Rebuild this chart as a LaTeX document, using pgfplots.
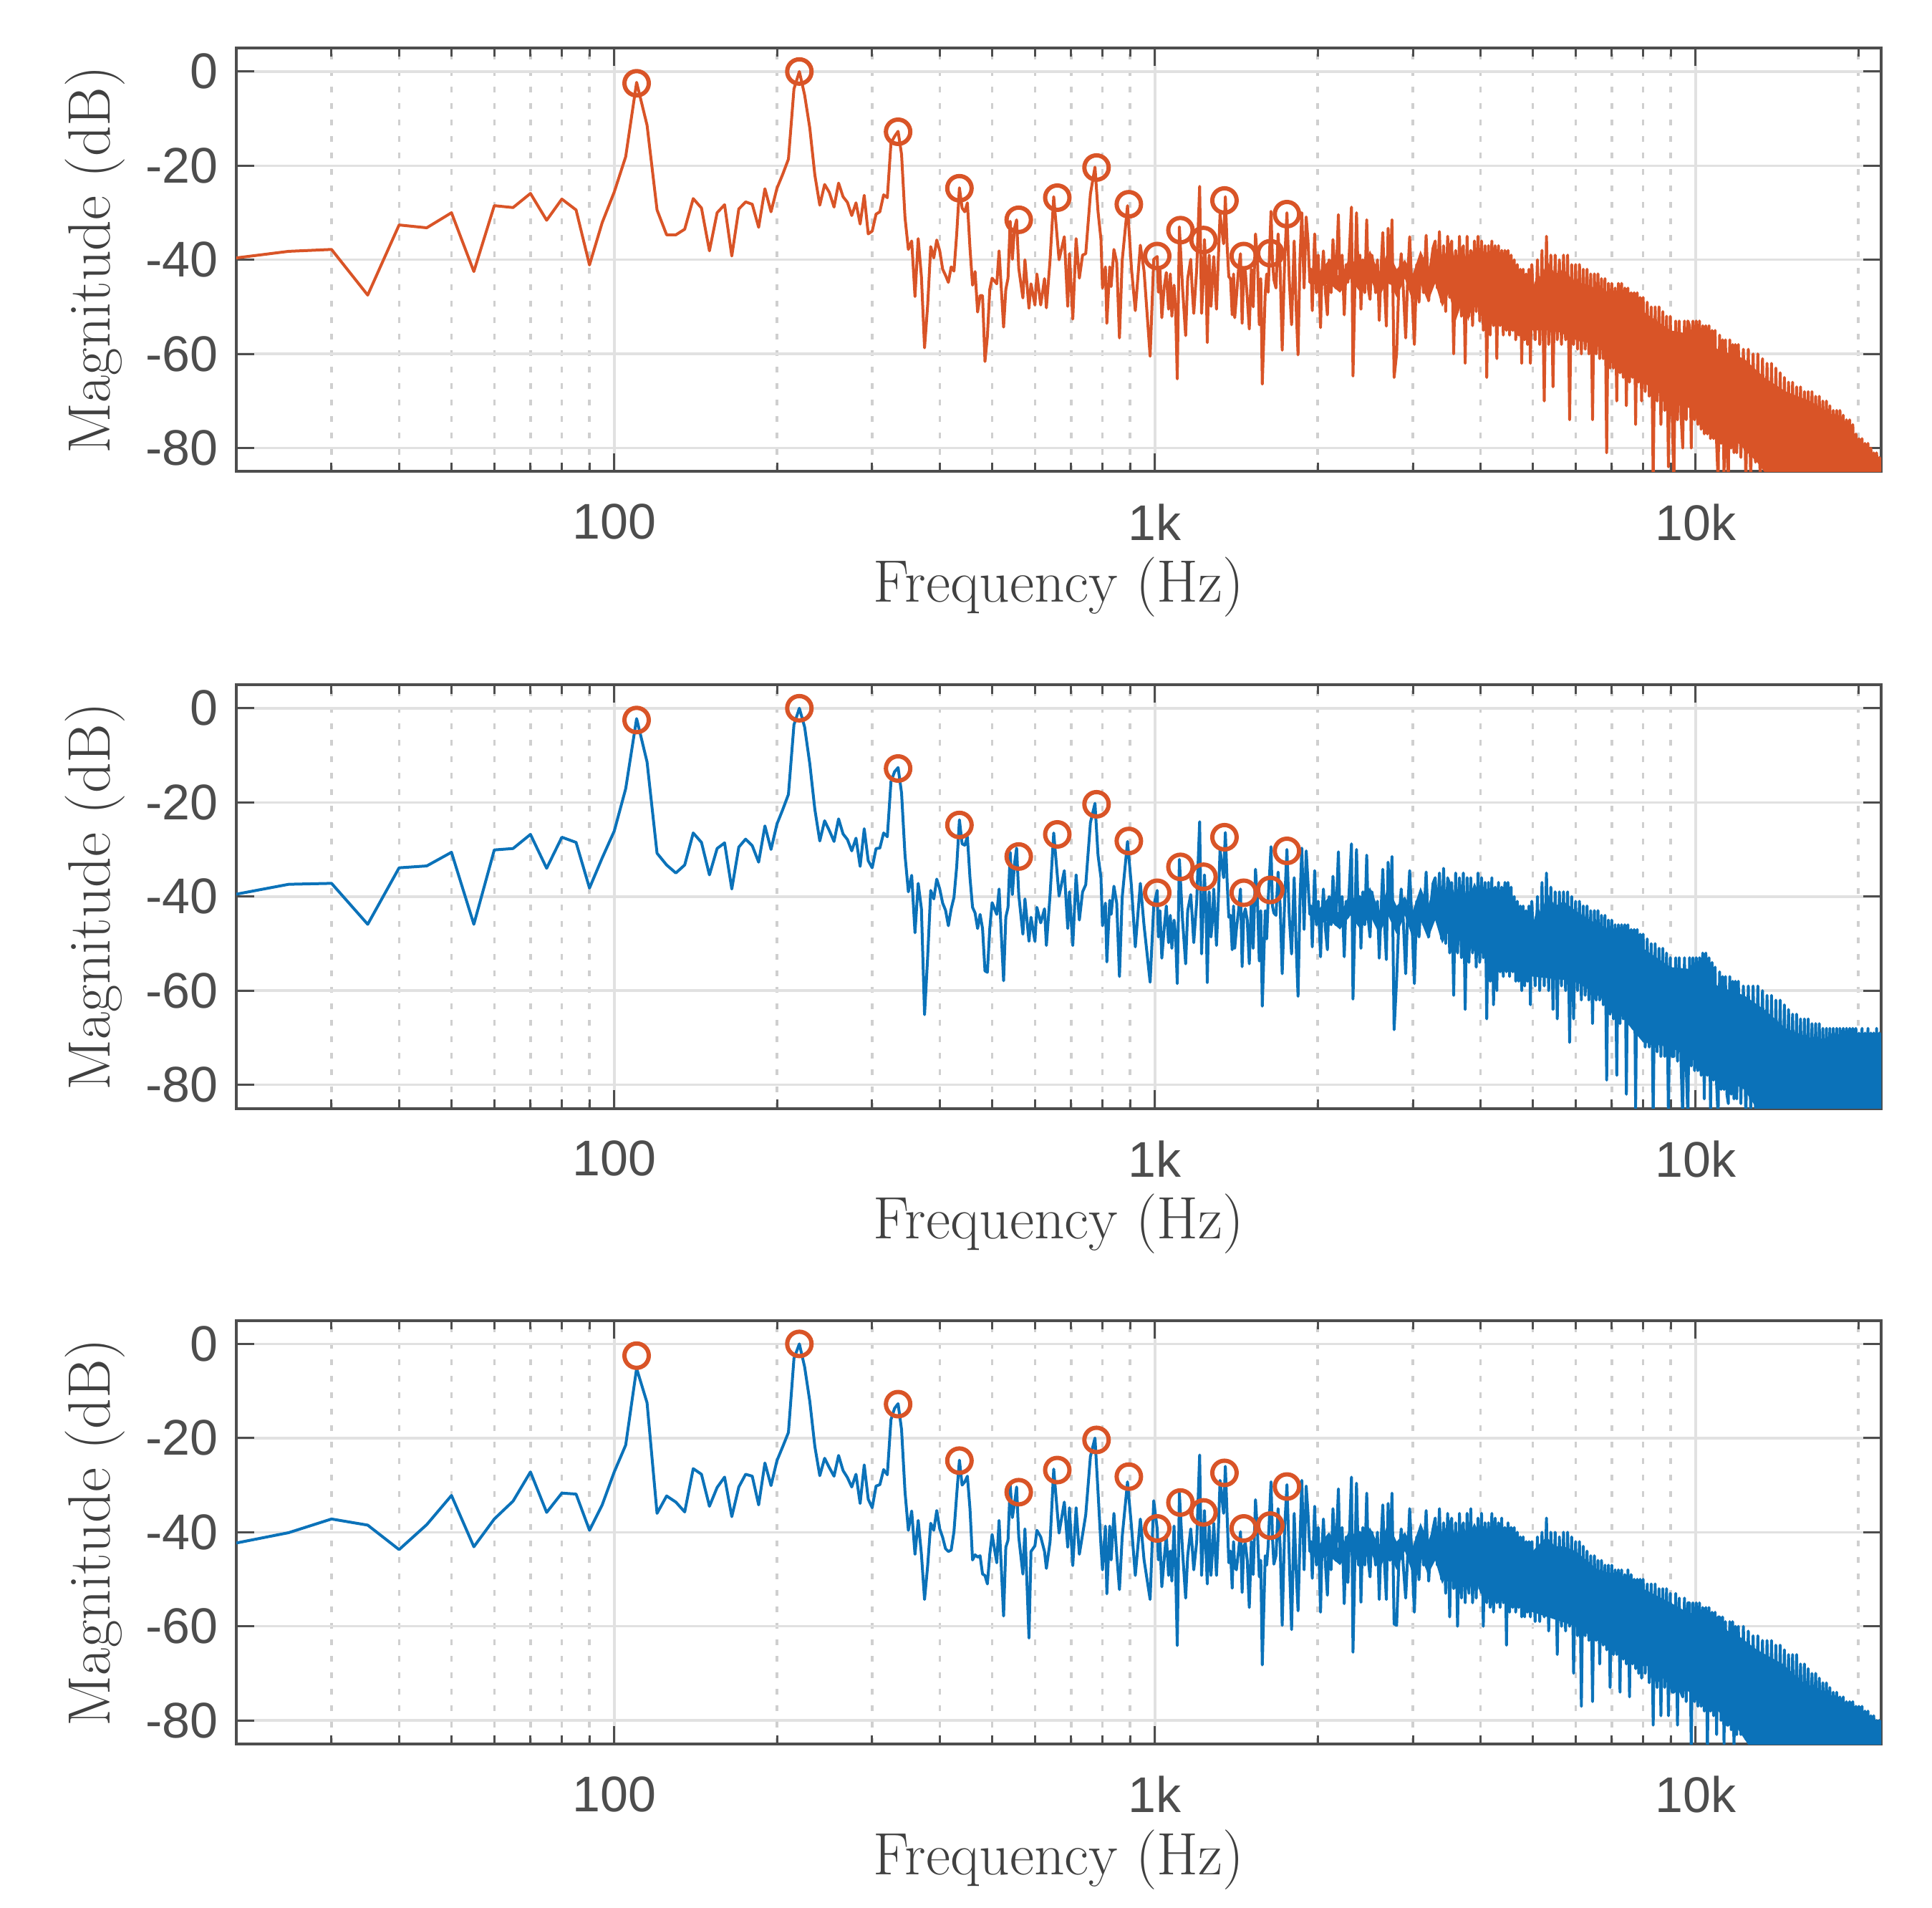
\documentclass[border=0pt]{standalone}
\usepackage{fontspec}
\usepackage{pgfplots}
\usepackage{pgfplotstable}
\pgfplotsset{compat=1.18}
\newfontfamily\arialfont{Liberation Sans}
\definecolor{specorange}{HTML}{D95427}
\definecolor{specblue}{HTML}{0B72B9}
\definecolor{axgray}{HTML}{4D4D4D}
\definecolor{labelgray}{HTML}{404040}
\definecolor{gridmajor}{HTML}{E1E1E1}
\definecolor{gridminor}{HTML}{CFCFCF}

% f, panel 1, panel 2, panel 3 (dB)
\pgfplotstableread{
f a b c
20 -39.6 -39.5 -42.3
25 -38.2 -37.4 -40.1
30 -37.8 -37.2 -37.2
35 -47.5 -45.9 -38.5
40 -32.6 -33.9 -43.7
45 -33.2 -33.5 -38.4
50 -30 -30.6 -32.2
55 -42.5 -45.9 -43.1
60 -28.5 -30.1 -37.2
65 -28.9 -29.8 -33.4
70 -25.9 -26.8 -27.2
75 -31.6 -34 -35.8
80 -27.1 -27.4 -31.7
85 -29.4 -28.5 -31.9
90 -41.1 -38.2 -39.6
95 -32.1 -31.8 -34.2
100 -25.6 -26.1 -27.2
105 -18.1 -17.1 -21.5
110 -2.3 -2.2 -5.2
115 -11.4 -11.4 -12.5
120 -29.4 -30.8 -36
125 -34.7 -33.3 -32.3
130 -34.7 -35 -33.6
135 -33.5 -33.3 -35.7
140 -27 -26.5 -26.5
145 -29 -28.5 -27.7
150 -38.1 -35.4 -34.5
155 -30 -29.8 -30.5
160 -28.3 -28.6 -28.3
165 -39.2 -38.4 -36.7
170 -29.2 -29.5 -30.4
175 -27.7 -27.8 -27.7
180 -28.2 -29.2 -28.1
185 -33.1 -32.7 -34.2
190 -24.9 -25 -25.3
195 -29.8 -30 -30.1
200 -24.8 -24.6 -24.8
205 -21.8 -21.5 -21.8
210 -18.6 -18.3 -18.8
215 -3.7 -3.5 -3.1
220 0 0 0
225 -5 -4 -4.9
230 -12 -11.8 -12.2
235 -22 -21.5 -21.8
240 -28.4 -28.2 -28
245 -24 -23.9 -24.3
250 -25.7 -26 -26.3
255 -28.8 -28.3 -28.1
260 -23.7 -23.5 -23.7
265 -26.6 -26.7 -26.9
270 -27.8 -27.9 -28.4
275 -30.6 -30.3 -30.4
280 -27.9 -27.6 -27.7
285 -32.4 -33.6 -33.9
290 -26.3 -25.6 -25.7
295 -34.5 -32.4 -33
300 -33.9 -33.9 -34.8
305 -30.3 -29.8 -30.2
310 -29.8 -29.7 -29.9
315 -26.2 -26.5 -26.7
320 -26.8 -27.3 -27.8
325 -15.2 -15.6 -16.1
330 -13.8 -13.5 -13.7
335 -12.7 -12.6 -12.7
340 -17.6 -18 -18.2
345 -31 -31.2 -31.4
350 -37.8 -39 -39.6
355 -36 -35.5 -35.5
360 -47.8 -47.7 -44.7
365 -35.5 -37.2 -37.5
370 -43.6 -42.6 -44.7
375 -58.7 -65.1 -54.3
380 -49.6 -52.8 -47.1
385 -37.2 -38.7 -38.1
390 -39.6 -40.5 -39.6
395 -35.8 -36.3 -35.4
400 -38.1 -38.4 -39.3
405 -42 -41.4 -41.1
410 -43.3 -42.9 -43.5
415 -44.8 -46.2 -44.1
420 -41.5 -42.6 -43.8
425 -42.4 -40.2 -39.9
430 -34.5 -33.6 -32
435 -24.7 -23.7 -24.7
440 -29 -28.8 -30
445 -29.8 -29.1 -29.3
450 -27.9 -27.3 -28.1
455 -37.5 -36 -35
460 -45.4 -42.3 -45.9
465 -42.5 -43.5 -44.8
470 -51.1 -46.8 -45.3
475 -47.6 -43.8 -45
480 -47.6 -46.8 -48.9
485 -61.6 -55.8 -49.2
490 -56.3 -56.1 -51
495 -46.3 -46.8 -44.7
500 -43.9 -41.3 -40.5
510 -45.1 -43.8 -46.5
515 -38.1 -38.4 -37.5
525 -54.3 -57.9 -57.8
530 -46.3 -44.4 -43.2
535 -43.9 -42.3 -41.7
540 -31.8 -30.6 -29.9
545 -39.9 -39.6 -36.9
550 -33.3 -33 -33.9
555 -31.5 -29.7 -30.4
560 -41.8 -39.6 -41
570 -48.1 -48 -48.9
575 -40 -40.5 -39.3
585 -50.3 -49.5 -62.5
590 -45.1 -44.4 -44.1
600 -49.6 -49.5 -42.9
605 -43 -42.3 -39.6
615 -49.6 -45.6 -41
625 -44 -42.6 -44.1
630 -50.2 -50.4 -47.7
640 -40 -39.6 -42
650 -26.6 -26.5 -26.6
665 -40 -39.9 -40.2
680 -35.1 -34.5 -33.6
690 -49.9 -46.8 -43.2
695 -38.7 -39 -34.8
705 -52.6 -50.4 -47.1
715 -35.5 -35.4 -34.8
725 -43.9 -45 -44.7
735 -39 -39 -40.5
745 -38.7 -37.5 -36.3
760 -26 -24.3 -23.9
775 -20.3 -20.2 -20
785 -29.7 -31.2 -31.4
795 -35.7 -36 -42.9
800 -46 -46.2 -48
810 -41.5 -41.4 -38.7
815 -53.5 -53.9 -53.1
825 -41.5 -40.8 -38.7
830 -45.7 -43.8 -45.9
840 -37.8 -37.8 -36
850 -40.5 -41.4 -44.7
860 -56.6 -57 -52.2
870 -40.2 -40.2 -41
890 -28.5 -28.3 -29.3
905 -41.8 -37.8 -38.7
920 -50.8 -50.7 -49.2
940 -36.9 -37.2 -37.2
955 -42.4 -46.2 -45.9
980 -60.5 -58.2 -54.3
995 -39.9 -42 -33.3
1010 -39.3 -38.7 -39.3
1015 -46.9 -48.6 -45.9
1022 -42 -43 -42
1030 -52.3 -53.1 -51.6
1040 -46 -47 -46
1050 -42.7 -42 -40.5
1060 -50.5 -49.8 -49.2
1068 -43 -44 -44
1075 -52 -51 -50.4
1085 -45.4 -45 -38.7
1092 -50 -48 -47
1100 -65.3 -58.5 -64.1
1110 -33 -32.1 -31.7
1125 -46 -45 -44
1140 -56.1 -54.3 -54
1150 -44 -43 -45
1165 -39.9 -39.6 -39.3
1172 -46 -44 -43
1180 -51.4 -49.8 -48
1195 -42 -41 -42
1210 -24.4 -24.1 -23.6
1220 -51.4 -52.2 -49.2
1228 -45 -43 -42
1235 -35.7 -35.4 -35.4
1243 -42 -42 -44
1250 -57.6 -58.3 -51
1260 -39 -39 -38.7
1270 -49.9 -48.6 -49.2
1278 -44 -45 -44
1285 -39.3 -38.4 -38.1
1300 -50.5 -50.4 -49.2
1310 -40 -41 -40
1320 -30.3 -30 -29
1340 -36.6 -36 -36
1350 -26.6 -26.4 -26
1360 -36.9 -36.6 -36.3
1370 -43.6 -44.4 -46.5
1380 -44 -44 -44
1390 -51.7 -51.3 -51.9
1398 -43 -42 -42
1405 -52.3 -51 -47.4
1415 -48 -47 -48
1428 -42 -43 -44
1440 -38.7 -38.4 -39.9
1450 -53.5 -54.9 -52.8
1460 -42 -44 -43
1470 -42.4 -42.6 -42.3
1482 -48 -45 -46
1495 -54.7 -54.3 -56
1508 -42 -41 -42
1520 -50 -51 -49
1535 -34.5 -34.2 -33.1
1548 -40 -41 -40
1560 -53.8 -53.7 -49.5
1570 -44 -43 -46
1580 -66.4 -63.3 -68.2
1600 -47 -43 -45
1610 -43 -49 -47
1620 -46.9 -40.8 -42.9
1640 -29.7 -29.4 -29.3
1650 -40 -42 -41
1660 -44.2 -43.5 -46.8
1675 -46 -44 -45
1690 -34.5 -34.8 -35
1705 -42 -42 -43
1720 -59.2 -56.4 -59.8
1738 -40 -41 -39
1755 -30 -30 -29.9
1772 -44 -44 -45
1790 -53.8 -52.2 -60.7
1810 -36 -36 -36
1825 -50 -50 -48
1840 -60.2 -61.2 -56.7
1855 -40 -41 -42
1870 -30 -29.7 -29
1888 -46 -47 -48
1905 -30.9 -30.3 -30.2
1920 -36 -37 -36
1935 -44.8 -43.8 -44.1
1945 -42 -42 -42
1955 -50.8 -50.7 -49.8
1975 -34.5 -34.5 -34.5
1990 -47 -46 -47
2005 -39 -41 -39
2025 -54.4 -52.8 -57
2037 -43 -44 -44
2050 -38.1 -38.4 -37.2
2068 -47 -47 -47
2085 -51.7 -51.3 -53.4
2100 -40 -40 -41
2118 -47 -46 -48
2135 -35.7 -35.7 -35
2160 -46 -46 -46
2185 -30.4 -30.5 -30.8
2200 -46 -45 -46
2220 -39 -40 -39
2240 -51.7 -52.8 -55.2
2258 -41 -41 -41
2275 -44.8 -44.4 -50.7
2310 -28.8 -28.8 -28.3
2325 -64.7 -61.8 -65.5
2360 -30 -30 -29.6
2380 -46 -46 -47
2395 -39 -40 -40
2405 -50.5 -51 -54.9
2425 -40 -39 -39
2445 -47 -46 -47
2465 -31.5 -31.2 -31.7
2482 -46 -45 -46
2500 -48.4 -48.6 -49.5
2520 -39 -39 -40
2540 -41.8 -41.4 -42.9
2560 -47 -45 -47
2580 -40 -41 -40
2600 -52.9 -53.1 -54.3
2620 -42 -43 -42
2640 -34.2 -34.2 -34.2
2660 -46 -46 -47
2680 -54.1 -53.4 -54.3
2700 -33.3 -32.7 -33.9
2722 -45 -44 -46
2745 -31.5 -31.5 -31.7
2770 -65 -68.3 -59.5
2800 -59.9 -57.6 -59.8
2825 -46 -46 -47
2855 -38.7 -38.4 -39.3
2880 -46 -45 -47
2910 -56.6 -56.4 -54
2935 -44 -43 -45
2960 -35.1 -34.5 -35
2990 -47 -46 -46
3020 -58 -58.5 -57
3050 -41 -41 -41
3080 -49 -48.6 -50.1
3110 -39 -40 -40
3140 -47 -46 -47
3175 -34.8 -34.8 -35.4
3210 -48.7 -48.6 -50.4
3240 -41 -42 -42
3270 -37.5 -37.2 -39.3
3300 -36 -36 -37
3330 -46 -45 -47
3360 -34 -35 -35
3390 -49 -49 -50
3420 -37 -34 -38
3450 -51 -50 -53
3480 -35 -36 -36
3510 -48 -52 -58
3540 -36 -37 -37
3570 -60 -61 -52
3600 -38 -35 -38
3630 -50 -52 -60
3660 -35 -36 -36
3690 -52 -53 -54
3720 -37 -35 -38
3750 -62 -64 -55
3780 -35 -36 -36
3810 -52 -54 -53
3840 -38 -36 -35
3870 -54 -52 -55
3900 -36 -38 -39
3930 -51 -55 -54
3960 -35 -35 -37
3990 -53 -54 -52
4020 -36 -36 -36
4050 -55 -53 -60
4080 -37 -37 -38
4110 -65 -66 -55
4140 -37 -37 -38
4170 -56 -58 -56
4200 -36 -36 -36
4230 -54 -63 -57
4260 -37 -38 -37
4290 -61 -60 -55
4320 -37 -37 -38
4350 -54 -56 -56
4380 -38 -38 -37
4410 -56 -57 -55
4440 -38 -37 -39
4470 -55 -56 -64
4500 -38 -37 -38
4530 -56 -57 -57
4560 -39 -38 -39
4590 -55 -56 -56
4620 -40 -40 -39
4650 -57 -58 -57
4680 -41 -41 -40
4710 -56 -58 -56
4740 -42 -42 -41
4770 -62 -60 -58
4800 -42 -42 -41
4830 -57 -59 -58
4860 -43 -43 -42
4890 -58 -58 -57
4920 -42 -42 -42
4950 -62 -63 -58
4980 -41 -41 -42
5050 -57 -59 -59
5100 -40 -40 -41
5150 -58 -60 -59
5200 -38 -37 -40
5250 -70 -59 -58
5300 -35 -35 -37
5350 -58 -60 -61
5400 -39 -38 -40
5450 -67 -64 -58
5500 -39 -39 -40
5550 -57 -66 -66
5600 -40 -39 -41
5650 -58 -59 -60
5700 -39 -39 -40
5750 -57 -60 -61
5800 -39 -39 -40
5850 -74 -71 -60
5900 -41 -40 -41
5950 -58 -66 -70
6000 -41 -41 -42
6050 -59 -60 -62
6100 -41 -41 -42
6150 -60 -62 -77
6200 -42 -42 -43
6250 -59 -61 -62
6300 -42 -42 -44
6350 -60 -62 -63
6400 -43 -43 -45
6450 -74 -67 -76
6500 -43 -43 -45
6550 -60 -62 -63
6600 -43 -43 -46
6650 -61 -62 -68
6700 -44 -44 -46
6750 -61 -63 -64
6800 -44 -44 -47
6850 -81 -79 -65
6900 -45 -45 -47
6950 -63 -65 -73
7000 -45 -45 -47
7050 -63 -66 -66
7100 -46 -46 -48
7150 -70 -78 -66
7200 -45 -46 -48
7250 -64 -67 -74
7300 -45 -46 -48
7350 -65 -66 -67
7400 -46 -46 -49
7450 -71 -82 -68
7500 -46 -46 -48
7550 -66 -67 -75
7600 -47 -47 -49
7650 -65 -68 -68
7700 -47 -47 -50
7750 -75 -85 -69
7800 -47 -47 -50
7850 -66 -69 -70
7900 -48 -48 -50
7950 -70 -70 -71
8000 -48 -48 -50
8070 -68 -72 -70
8140 -49 -49 -51
8210 -69 -72 -72
8280 -50 -50 -51
8350 -87 -87 -81
8420 -50 -50 -51
8490 -70 -73 -73
8560 -50 -51 -52
8630 -75 -74 -79
8700 -51 -51 -52
8770 -72 -74 -73
8840 -52 -52 -52
8910 -84 -87 -79
8980 -52 -53 -53
9050 -72 -74 -74
9120 -87 -74 -74
9190 -53 -53 -53
9260 -74 -75 -81
9330 -53 -53 -54
9400 -73 -75 -74
9470 -80 -87 -75
9540 -53 -53 -54
9610 -74 -76 -76
9680 -53 -87 -55
9750 -54 -53 -55
9820 -80 -76 -87
9890 -53 -53 -55
9960 -74 -77 -76
10030 -53 -53 -55
10100 -75 -77 -77
10170 -53 -53 -55
10240 -76 -78 -77
10310 -54 -52 -56
10380 -77 -83 -78
10450 -54 -52 -56
10520 -77 -78 -87
10590 -54 -53 -56
10660 -78 -87 -78
10730 -55 -54 -57
10800 -78 -79 -79
10870 -55 -55 -57
10940 -79 -80 -83
11010 -87 -87 -58
11080 -56 -56 -58
11150 -79 -81 -80
11220 -57 -57 -58
11290 -87 -81 -85
11360 -57 -57 -59
11430 -80 -82 -81
11500 -87 -84 -81
11570 -57 -57 -59
11640 -80 -82 -82
11710 -58 -58 -59
11780 -81 -83 -87
11850 -58 -58 -60
11920 -81 -83 -83
12000 -58 -58 -60
12130 -82 -84 -83
12260 -59 -59 -60
12390 -87 -87 -84
12520 -59 -59 -61
12650 -87 -86 -87
12780 -60 -59 -62
12910 -83 -85 -85
13040 -60 -59 -62
13170 -87 -87 -85
13300 -61 -60 -63
13430 -84 -85 -87
13560 -62 -61 -63
13690 -87 -87 -86
13820 -62 -61 -63
13950 -87 -87 -86
14080 -63 -62 -64
14210 -86 -86 -86
14340 -64 -62 -64
14470 -87 -87 -87
14600 -65 -63 -65
14730 -87 -87 -87
14860 -66 -64 -66
14990 -87 -87 -87
15120 -66 -65 -66
15250 -87 -87 -87
15380 -67 -65 -66
15510 -87 -87 -87
15640 -67 -66 -68
15770 -87 -87 -87
15900 -68 -66 -68
16030 -87 -87 -87
16160 -68 -66 -69
16290 -87 -87 -87
16420 -68 -67 -70
16550 -87 -87 -87
16680 -69 -67 -70
16810 -87 -87 -87
16940 -69 -67 -71
17070 -87 -87 -87
17200 -70 -68 -72
17330 -87 -87 -87
17460 -70 -68 -72
17590 -87 -87 -87
17720 -71 -68 -73
17850 -87 -87 -87
17980 -72 -68 -74
18110 -87 -87 -87
18240 -72 -68 -74
18370 -87 -87 -87
18500 -72 -68 -75
18630 -87 -87 -87
18760 -73 -68 -75
18890 -87 -87 -87
19020 -74 -68 -76
19150 -87 -87 -87
19280 -74 -68 -76
19410 -87 -87 -87
19540 -75 -68 -76
19670 -87 -87 -87
19800 -77 -68 -77
19930 -87 -87 -87
20060 -78 -69 -77
20190 -87 -87 -87
20320 -78 -68 -77
20450 -87 -87 -87
20580 -79 -69 -78
20710 -87 -87 -87
20840 -79 -68 -78
20970 -87 -87 -87
21100 -80 -69 -79
21230 -87 -87 -87
21360 -81 -69 -79
21490 -87 -87 -87
21620 -81 -68 -80
21750 -87 -87 -87
21880 -82 -69 -80
22000 -87 -87 -87
22050 -82 -69 -80
}\spec

% solid core of the band above 2 kHz, one closed outline per panel
\pgfplotstableread{
f y
2000 -43
2100 -40
2200 -44
2300 -39
2400 -43
2500 -38
2600 -43
2700 -38
2800 -42
2900 -40
3000 -43
3100 -38
3200 -42
3300 -37
3400 -41
3500 -36
3600 -40
3700 -37
3800 -41
3900 -37
4000 -41
4100 -38
4200 -41
4300 -38
4400 -42
4500 -40
4600 -44
4700 -43
4800 -46
4900 -44
5000 -46
5100 -43
5200 -44
5300 -40
5500 -43
5700 -42
6000 -45
6600 -46
7300 -48
8000 -51
9000 -55
10000 -56
11000 -59
12300 -61
13400 -65
14700 -68
16300 -70
17400 -72
18500 -74
19400 -76
20500 -80
22050 -84
22050 -88
14000 -88
13000 -83
12000 -79
11000 -76
10000 -72
9000 -70
8000 -66
7000 -60
6500 -58
6000 -57
5500 -55
5000 -55
4500 -51
4000 -52
3900 -48
3800 -53
3700 -49
3600 -53
3500 -47
3400 -50
3300 -45
3200 -49
3100 -45
3000 -49
2900 -44
2800 -48
2700 -44
2600 -48
2500 -44
2400 -47
2300 -44
2200 -47
2100 -45
2000 -46
}\corea
\pgfplotstableread{
f y
2000 -43
2100 -40
2200 -44
2300 -39
2400 -43
2500 -38
2600 -43
2700 -38
2800 -42
2900 -40
3000 -43
3100 -38
3200 -42
3300 -37
3400 -41
3500 -36
3600 -40
3700 -37
3800 -41
3900 -37
4000 -40
4100 -38
4200 -41
4300 -38
4400 -41
4500 -40
4600 -44
4700 -43
4800 -46
4900 -44
5000 -46
5100 -42
5200 -44
5300 -39
5500 -42
5700 -41
6000 -43
6600 -46
7300 -48
8000 -51
9000 -55
10000 -55.5
11000 -59
12300 -61
13400 -64
14700 -68
16300 -70
18000 -71
22050 -71
22050 -88
13500 -88
12300 -81
11000 -78
10000 -75
9000 -72
8000 -71
7000 -63
6000 -58
5000 -57
4000 -52
3900 -49
3800 -53
3700 -48
3600 -52
3500 -47
3400 -50
3300 -45
3200 -49
3100 -45
3000 -49
2900 -44
2800 -48
2700 -44
2600 -48
2500 -44
2400 -47
2300 -44
2200 -47
2100 -45
2000 -46
}\coreb
\pgfplotstableread{
f y
2000 -43
2100 -40
2200 -44
2300 -39
2400 -43
2500 -39
2600 -43
2700 -38
2800 -42
2900 -40
3000 -43
3100 -38
3200 -42
3300 -38
3400 -41
3500 -37
3600 -41
3700 -38
3800 -41
3900 -38
4000 -41
4100 -39
4200 -41
4300 -39
4400 -42
4500 -41
4600 -43
4800 -44
5000 -44
5300 -41
5500 -43
5700 -43
6000 -44
6600 -48
7300 -50
8000 -52
9000 -55
10000 -58
11000 -60
12000 -62
13000 -65
14500 -68
15500 -71
17000 -75
18500 -78
20000 -79
22050 -82
22050 -88
13000 -88
12000 -82
11000 -78
10000 -75
9000 -71
8000 -68
7000 -65
6000 -60
5000 -57
4000 -53
3900 -49
3800 -53
3700 -49
3600 -52
3500 -48
3400 -51
3300 -46
3200 -49
3100 -45
3000 -49
2900 -44
2800 -48
2700 -44
2600 -48
2500 -44
2400 -47
2300 -44
2200 -47
2100 -45
2000 -46
}\corec

% picked peaks, the same circles on all three panels
\pgfplotstableread{
f y
110 -2.5
220 0
335 -12.8
435 -24.8
560 -31.5
660 -26.8
780 -20.4
895 -28.2
1010 -39.2
1115 -33.7
1230 -35.8
1345 -27.4
1460 -39.2
1635 -38.6
1755 -30.3
}\peaks

\pgfplotsset{
  specaxis/.style={
    scale only axis,
    width=459.4pt,
    height=118.3pt,
    anchor=south west,
    xmin=20,
    xmax=22050,
    ymin=-85,
    ymax=5,
    xtick={100,1000,10000},
    xticklabels={100,1k,10k},
    minor xtick={30,40,50,60,70,80,90,200,300,400,500,600,700,800,900,2000,3000,4000,5000,6000,7000,8000,9000,20000},
    ytick={-80,-60,-40,-20,0},
    yticklabels={-80,-60,-40,-20,0},
    xtick pos=both,
    ytick pos=both,
    tick align=inside,
    major tick length=5pt,
    minor tick length=2.5pt,
    every tick/.style={color=axgray,line width=0.6pt},
    axis line style={color=axgray,line width=0.8pt},
    xmajorgrids,
    ymajorgrids,
    xminorgrids,
    major grid style={color=gridmajor,line width=0.7pt},
    minor grid style={color=gridminor,line width=0.7pt,dash pattern=on 1.6pt off 3pt},
    ticklabel style={font=\arialfont\fontsize{14}{16}\selectfont,text=axgray},
    xticklabel style={yshift=-5.5pt},
    yticklabel style={xshift=-1.5pt},
    xlabel={Frequency (Hz)},
    ylabel={Magnitude (dB)},
    label style={font=\fontsize{16.7}{18}\selectfont\addfontfeature{FakeBold=0.6},text=labelgray},
    xlabel style={at={(axis description cs:0.5,0)},anchor=north,yshift=-20.4pt},
    ylabel style={at={(axis description cs:0,0.5)},anchor=south,yshift=27.6pt},
  },
  specline/.style={no markers,line width=0.8pt,line join=round},
  corefill/.style={no markers,draw=none},
  peakmarks/.style={only marks,mark=o,mark size=3.4pt,mark options={line width=1.2pt,color=specorange}},
}

\begin{document}
\begin{tikzpicture}
\path[use as bounding box] (0,0) rectangle (539.6pt,532.6pt);
\begin{semilogxaxis}[specaxis,at={(66pt,400.9pt)}]
  \addplot[corefill,fill=specorange] table[x=f,y=y]{\corea};
  \addplot[specline,color=specorange] table[x=f,y=a]{\spec};
  \addplot[peakmarks] table[x=f,y=y]{\peaks};
\end{semilogxaxis}
\begin{semilogxaxis}[specaxis,at={(66pt,223.1pt)}]
  \addplot[corefill,fill=specblue] table[x=f,y=y]{\coreb};
  \addplot[specline,color=specblue] table[x=f,y=b]{\spec};
  \addplot[peakmarks] table[x=f,y=y]{\peaks};
\end{semilogxaxis}
\begin{semilogxaxis}[specaxis,at={(66pt,45.6pt)}]
  \addplot[corefill,fill=specblue] table[x=f,y=y]{\corec};
  \addplot[specline,color=specblue] table[x=f,y=c]{\spec};
  \addplot[peakmarks] table[x=f,y=y]{\peaks};
\end{semilogxaxis}
\end{tikzpicture}
\end{document}
